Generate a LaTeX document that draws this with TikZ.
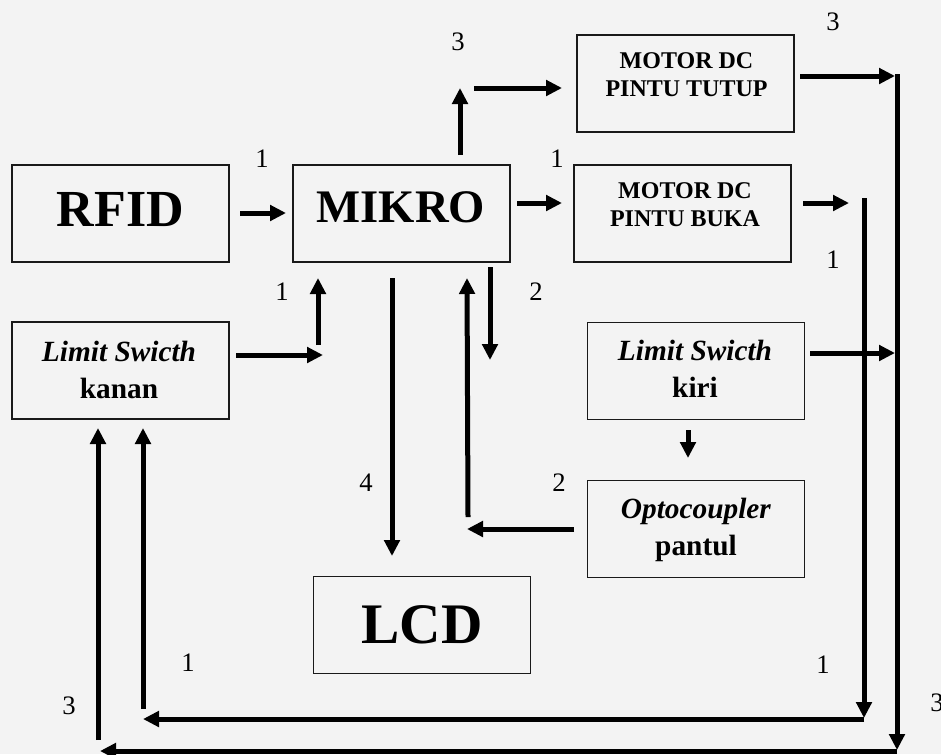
\documentclass[tikz,border=0pt]{standalone}
\usepackage{fontspec}
\setmainfont{Liberation Serif}
\usetikzlibrary{arrows.meta}
\definecolor{bggray}{RGB}{243,243,243}
\begin{document}
\begin{tikzpicture}[x=0.75pt,y=-0.75pt,
  box/.style={draw=black!90, line width=1.1pt, minimum width=162.75pt, minimum height=72.75pt, inner sep=0pt},
  arr/.style={line width=3.75pt, -{Triangle[length=12pt,width=11.5pt]}},
  num/.style={font=\fontsize{20}{20}\selectfont, inner sep=0pt},
  bigtxt/.style={font=\fontsize{39}{39}\selectfont\bfseries, inner sep=0pt},
  midtxt/.style={font=\fontsize{18}{21}\selectfont\bfseries, align=center, inner sep=0pt},
  swtxt/.style={font=\fontsize{22}{27.75}\selectfont\bfseries, align=center, inner sep=0pt}]
\clip (0,0) rectangle (941,754);
\fill[bggray] (0,0) rectangle (941,754);

% boxes
\node[box] (rfid) at (120.5,213.5) {};
\node[box] (mikro) at (401.5,213.5) {};
\node[box] (tutup) at (685.5,83.5) {};
\node[box] (buka) at (682.5,213.5) {};
\node[box] (kanan) at (120.5,370.5) {};
\node[box] (kiri) at (696,371) {};
\node[box] (opto) at (696,529) {};
\node[box] (lcd) at (422,625) {};

% box texts
\node[bigtxt] (trfid) at (120.5,209.5) {RFID};
\node[bigtxt, font=\fontsize{35}{35}\selectfont\bfseries] (tmikro) at (401,207) {MIKRO};
\node[bigtxt, font=\fontsize{43}{43}\selectfont\bfseries] (tlcd) at (422,624.5) {LCD};
\node[midtxt] (ttutup) at (686.5,75) {MOTOR DC\\PINTU TUTUP};
\node[midtxt] (tbuka) at (685,205) {MOTOR DC\\PINTU BUKA};
\node[swtxt] (tkanan) at (119,370) {\textit{Limit Swicth}\\kanan};
\node[swtxt] (tkiri) at (695,368.5) {\textit{Limit Swicth}\\kiri};
\node[swtxt] (topto) at (696,530) {\textit{Optocoupler}\\pantul};

% coordinates
\coordinate (a1s) at (240,213);  \coordinate (a1e) at (286,213);
\coordinate (a2s) at (460,155);  \coordinate (a2e) at (460,88);
\coordinate (a3s) at (474,88);   \coordinate (a3e) at (562,88);
\coordinate (a4s) at (517,203);  \coordinate (a4e) at (562,203);
\coordinate (a5s) at (800,76);   \coordinate (a5e) at (895,76);
\coordinate (v3t) at (897,74);   \coordinate (v3b) at (897,750);
\coordinate (a6s) at (803,203);  \coordinate (a6e) at (849,203);
\coordinate (v1t) at (864,198);  \coordinate (v1b) at (864,718);
\coordinate (h1s) at (864,719);  \coordinate (h1e) at (143,719);
\coordinate (h3s) at (897,751);  \coordinate (h3e) at (100,751);
\coordinate (l3b) at (98,740);   \coordinate (l3t) at (98,428);
\coordinate (l1b) at (143,709);  \coordinate (l1t) at (143,428);
\coordinate (k1s) at (236,355);  \coordinate (k1e) at (323,355);
\coordinate (k2s) at (318,345);  \coordinate (k2e) at (318,278);
\coordinate (d4s) at (392,278);  \coordinate (d4e) at (392,556);
\coordinate (u2s) at (468,517);  \coordinate (u2e) at (467,278);
\coordinate (o2s) at (574,529);  \coordinate (o2e) at (467,529);
\coordinate (d2s) at (490,267);  \coordinate (d2e) at (490,360);
\coordinate (r1s) at (810,353);  \coordinate (r1e) at (895,353);
\coordinate (kd1) at (688,430);  \coordinate (kd2) at (688,458);

% connectors
\draw[arr] (a1s) -- (a1e);
\draw[arr] (a2s) -- (a2e);
\draw[arr] (a3s) -- (a3e);
\draw[arr] (a4s) -- (a4e);
\draw[arr] (a5s) -- (a5e);
\draw[arr] (v3t) -- (v3b);
\draw[arr] (a6s) -- (a6e);
\draw[arr] (v1t) -- (v1b);
\draw[arr] (h1s) -- (h1e);
\draw[arr] (h3s) -- (h3e);
\draw[arr] (l3b) -- (l3t);
\draw[arr] (l1b) -- (l1t);
\draw[arr] (k1s) -- (k1e);
\draw[arr] (k2s) -- (k2e);
\draw[arr] (d4s) -- (d4e);
\draw[arr] (u2s) -- (u2e);
\draw[arr] (o2s) -- (o2e);
\draw[arr] (d2s) -- (d2e);
\draw[arr] (r1s) -- (r1e);
\draw[arr] (kd1) -- (kd2);

% number labels
\node[num] (n1) at (262,159) {1};
\node[num] (n2) at (458,42) {3};
\node[num] (n3) at (557,159) {1};
\node[num] (n4) at (833,22) {3};
\node[num] (n5) at (833,260) {1};
\node[num] (n6) at (282,292) {1};
\node[num] (n7) at (536,292) {2};
\node[num] (n8) at (366,483) {4};
\node[num] (n9) at (559,483) {2};
\node[num] (n10) at (188,663) {1};
\node[num] (n11) at (69,706) {3};
\node[num] (n12) at (823,665) {1};
\node[num] (n13) at (937,703) {3};
\end{tikzpicture}
\end{document}
